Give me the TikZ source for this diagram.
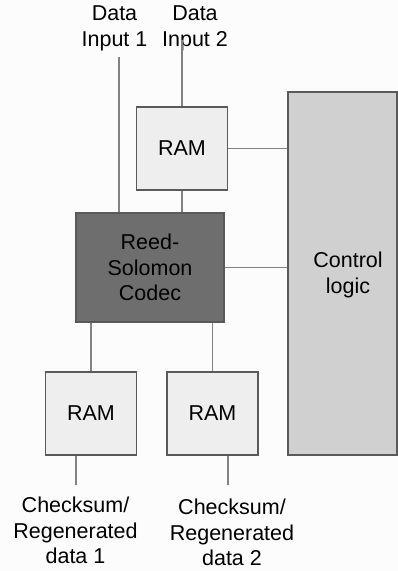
\documentclass[tikz,border=0pt]{standalone}
\usepackage{fontspec}
\setmainfont{Liberation Sans}
\definecolor{bg}{RGB}{252,252,252}
\definecolor{ramfill}{RGB}{238,238,238}
\definecolor{ctrlfill}{RGB}{208,208,208}
\definecolor{codecfill}{RGB}{110,110,110}
\definecolor{edge}{RGB}{90,90,90}
\definecolor{wire}{RGB}{130,130,130}
\begin{document}
\begin{tikzpicture}[x=1pt,y=-1pt,
  block/.style={draw=edge,line width=1.3pt,rectangle,inner sep=0pt,align=center,
    font=\fontsize{21.5}{25.5}\selectfont},
  rambox/.style={block,fill=ramfill,minimum width=91pt,minimum height=83pt},
  lbl/.style={inner sep=0pt,align=center,font=\fontsize{21.5}{25.5}\selectfont},
  wireline/.style={draw=wire,line width=1.3pt}]
  \fill[bg] (0,0) rectangle (398,571);
  \useasboundingbox (0,0) rectangle (398,571);

  % blocks
  \node[rambox] (ramin) at (182,148.5) {RAM};
  \node[block,fill=codecfill,minimum width=148pt,minimum height=109pt] (codec) at (150,267.5) {};
  \node[lbl] (codectext) at (150,267.5) {Reed-\\Solomon\\Codec};
  \node[block,fill=ctrlfill,minimum width=109pt,minimum height=363pt] (ctrl) at (342.5,273.5) {};
  \node[lbl] (ctrltext) at (348,275) {Control\\logic};
  \node[rambox] (ramout1) at (91,413.5) {RAM};
  \node[rambox] (ramout2) at (212.5,413.5) {RAM};

  % input and output labels
  \node[lbl] (in1) at (114.5,28.5) {Data\\Input 1};
  \node[lbl] (in2) at (195,28.5) {Data\\Input 2};
  \node[lbl] (out1) at (75.5,530.5) {Checksum/\\Regenerated\\data 1};
  \node[lbl] (out2) at (232,532.5) {Checksum/\\Regenerated\\data 2};

  % free ends of the wires
  \coordinate (in1end) at (119,57);
  \coordinate (in2end) at (182,40);
  \coordinate (out1end) at (76,485);
  \coordinate (out2end) at (228,485);

  % wires
  \draw[wireline] (in1end) -- (in1end |- codec.north);
  \draw[wireline] (in2end) -- (ramin.north);
  \draw[wireline] (ramin.south) -- (ramin.south |- codec.north);
  \draw[wireline] (ramin.east) -- (ramin.east -| ctrl.west);
  \draw[wireline] (codec.east) -- (codec.east -| ctrl.west);
  \draw[wireline] (ramout1.north) -- (ramout1.north |- codec.south);
  \draw[wireline] (ramout2.north) -- (ramout2.north |- codec.south);
  \draw[wireline] (out1end |- ramout1.south) -- (out1end);
  \draw[wireline] (out2end |- ramout2.south) -- (out2end);
\end{tikzpicture}
\end{document}
